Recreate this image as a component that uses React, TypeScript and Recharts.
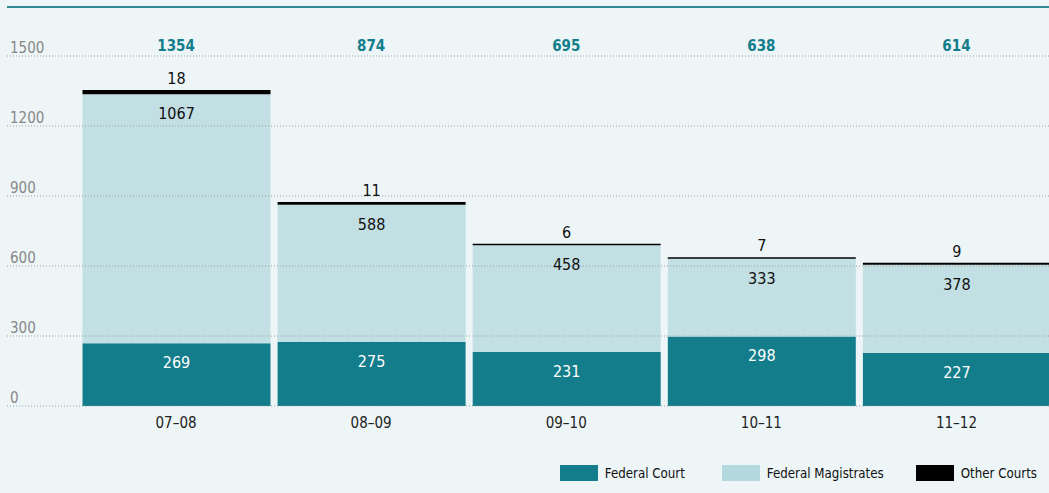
import React from 'react';
import { BarChart, Bar, XAxis, YAxis, ReferenceLine, LabelList, Legend } from 'recharts';

const categories = ['07–08', '08–09', '09–10', '10–11', '11–12'];
const federalCourt = [269, 275, 231, 298, 227];
const federalMagistrates = [1067, 588, 458, 333, 378];
const otherCourts = [18, 11, 6, 7, 9];
const totals = [1354, 874, 695, 638, 614];
const yTicks = [0, 300, 600, 900, 1200, 1500];

const data = categories.map((c, i) => ({
  period: c,
  fc: federalCourt[i],
  fm: federalMagistrates[i],
  oc: otherCourts[i],
  total: totals[i],
}));

const FONT = "'Liberation Sans Narrow', 'DejaVu Sans Condensed', Roboto, sans-serif";
const TEAL = '#137d8b';
const LIGHT = '#c2dfe3';
const BG = '#edf5f7';

const insideLabel = (color: string) => (props: any) => {
  const { x, y, width, value } = props;
  return (
    <text x={x + width / 2} y={y + 25} textAnchor="middle" fill={color} fontSize={16} fontFamily={FONT}>
      {value}
    </text>
  );
};

const topLabel = (props: any) => {
  const { x, y, width, value } = props;
  return (
    <text x={x + width / 2} y={y - 6} textAnchor="middle" fill="#111" fontSize={16} fontFamily={FONT}>
      {value}
    </text>
  );
};

const BottomTick = (props: any) => {
  const { x, y, payload } = props;
  return (
    <text x={x} y={y + 22} textAnchor="middle" fill="#222" fontSize={15} fontFamily={FONT}>
      {payload.value}
    </text>
  );
};

const TopTick = (props: any) => {
  const { x, y, index } = props;
  return (
    <text x={x} y={y - 5} textAnchor="middle" fill={TEAL} fontSize={15} fontWeight="bold" fontFamily={FONT}>
      {totals[index]}
    </text>
  );
};

const legendItems = [
  { label: 'Federal Court', color: TEAL, gap: 0 },
  { label: 'Federal Magistrates', color: '#b3d9de', gap: 37 },
  { label: 'Other Courts', color: '#000', gap: 32 },
];

const LegendContent = () => (
  <div style={{ display: 'flex', alignItems: 'center', height: 24, justifyContent: 'flex-end' }}>
    {legendItems.map((it) => (
      <div key={it.label} style={{ display: 'flex', alignItems: 'center', marginLeft: it.gap }}>
        <div style={{ width: 38, height: 16, background: it.color, marginRight: 7 }} />
        <span style={{ fontFamily: FONT, fontSize: 13.2, color: '#111' }}>{it.label}</span>
      </div>
    ))}
  </div>
);

export default function App() {
  return (
    <div style={{ width: 1049, height: 493, overflow: 'hidden', background: BG, position: 'relative' }}>
      <style>{`body{margin:0;background:${BG};}`}</style>
      <div style={{ position: 'absolute', top: 6, left: 7, right: 0, height: 2, background: '#2f8a96' }} />
      <BarChart
        width={1054}
        height={493}
        data={data}
        margin={{ top: 26, right: 0, left: 7, bottom: 31 }}
      >
        <XAxis
          dataKey="period"
          padding={{ left: 71.5, right: 0 }}
          axisLine={false}
          tickLine={false}
          tickSize={0}
          tickMargin={0}
          height={32}
          tick={<BottomTick />}
          interval={0}
        />
        <XAxis
          xAxisId="top"
          orientation="top"
          dataKey="period"
          padding={{ left: 71.5, right: 0 }}
          axisLine={false}
          tickLine={false}
          tickSize={0}
          tickMargin={0}
          height={30}
          tick={<TopTick />}
          interval={0}
        />
        <YAxis hide domain={[0, 1500]} ticks={yTicks} />
        <Bar dataKey="fc" stackId="a" fill={TEAL} barSize={188} isAnimationActive={false}>
          <LabelList dataKey="fc" content={insideLabel('#ffffff')} />
        </Bar>
        <Bar dataKey="fm" stackId="a" fill={LIGHT} barSize={188} isAnimationActive={false}>
          <LabelList dataKey="fm" content={insideLabel('#111')} />
        </Bar>
        <Bar dataKey="oc" stackId="a" fill="#000" barSize={188} isAnimationActive={false}>
          <LabelList dataKey="oc" content={topLabel} />
        </Bar>
        {yTicks.map((t) => (
          <ReferenceLine
            key={t}
            y={t}
            stroke="#9a9fa3"
            strokeDasharray="1 2"
            label={(p: any) => {
              const vb = p.viewBox || {};
              return (
                <text x={vb.x + 3} y={vb.y - 3} fill="#888" fontSize={15} fontFamily={FONT}>
                  {t}
                </text>
              );
            }}
          />
        ))}
        <Legend
          verticalAlign="bottom"
          align="right"
          content={<LegendContent />}
          wrapperStyle={{ bottom: 8, right: 17 }}
        />
      </BarChart>
    </div>
  );
}
